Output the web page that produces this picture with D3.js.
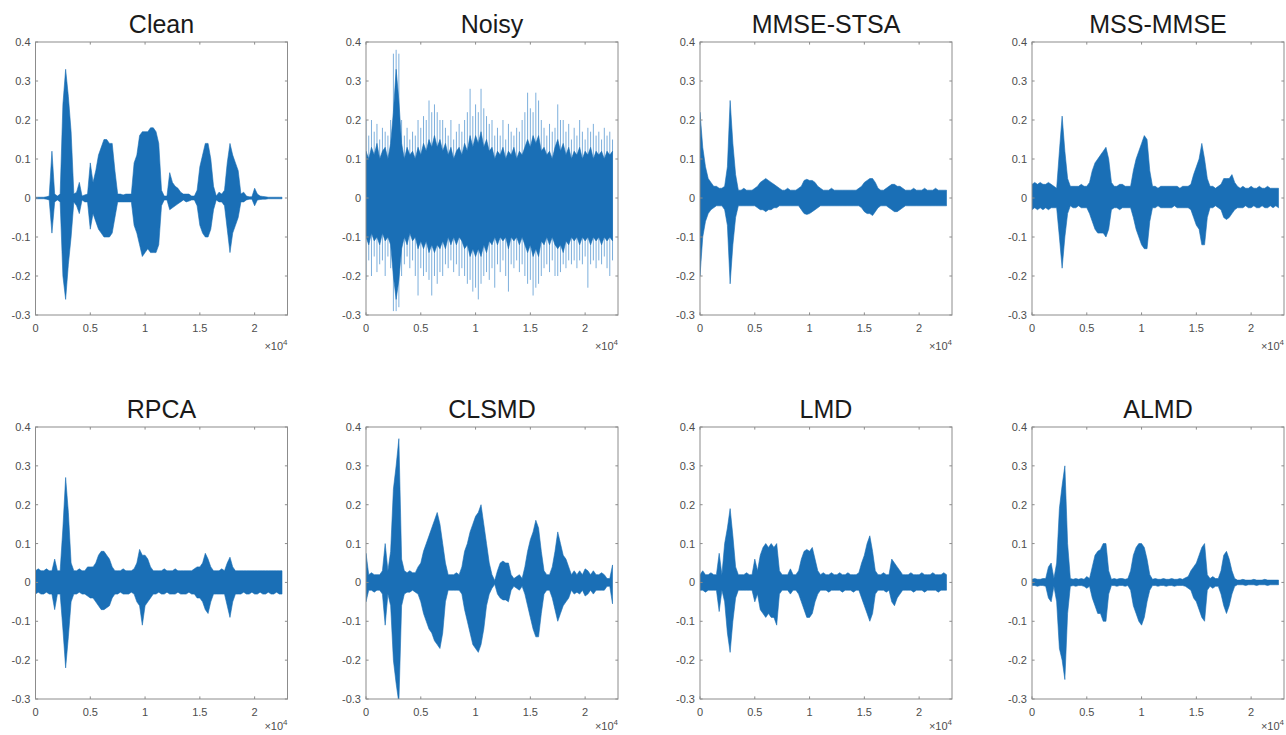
<!DOCTYPE html>
<html lang="en">
<head>
  <meta charset="UTF-8">
  <title>Speech denoising waveforms</title>
  <script src="https://d3js.org/d3.v7.min.js"></script>
  <style>
    html, body { margin: 0; background: #fff; }
    svg { display: block; font-family: "Liberation Sans", Arial, sans-serif; }
    .tick-label { font-size: 11px; fill: #4d4d4d; }
    .title { font-size: 25px; fill: #1a1a1a; }
  </style>
</head>
<body>
  <svg id="chart" width="1286" height="735"></svg>

  <script>
    // envelope of each waveform, read every 250 samples (0 .. 22500)
    const sampleStep = 250;

    const titles = ["Clean", "Noisy", "MMSE-STSA", "MSS-MMSE", "RPCA", "CLSMD", "LMD", "ALMD"];
    const yTicks = [-0.3, -0.2, -0.1, 0, 0.1, 0.2, 0.3, 0.4];
    const yTickLabels = ["-0.3", "-0.2", "-0.1", "0", "0.1", "0.2", "0.3", "0.4"];
    const xTicks = [0, 5000, 10000, 15000, 20000];
    const xTickLabels = ["0", "0.5", "1", "1.5", "2"];

    const cleanHi = [
      0.002, 0.002, 0.002, 0.002, 0.003, 0.005, 0.12, 0.01, 0.005, 0.01,
      0.24, 0.33, 0.26, 0.17, 0.01, 0.015, 0.04, 0.005, 0.008, 0.01,
      0.09, 0.04, 0.07, 0.11, 0.13, 0.15, 0.15, 0.14, 0.14, 0.07,
      0.01, 0.01, 0.008, 0.01, 0.01, 0.01, 0.09, 0.11, 0.16, 0.17,
      0.17, 0.17, 0.18, 0.18, 0.17, 0.14, 0.02, 0.005, 0.005, 0.065,
      0.04, 0.03, 0.025, 0.015, 0.01, 0.01, 0.01, 0.005, 0.005, 0.02,
      0.08, 0.11, 0.14, 0.14, 0.1, 0.03, 0.005, 0.015, 0.01, 0.02,
      0.09, 0.14, 0.11, 0.09, 0.07, 0.01, 0.015, 0.005, 0.003, 0.003,
      0.025, 0.01, 0.005, 0.004, 0.003, 0.002, 0.002, 0.002, 0.002, 0.002,
      0.002];
    const cleanLo = [
      -0.002, -0.002, -0.002, -0.002, -0.003, -0.005, -0.09, -0.01, -0.005, -0.01,
      -0.2, -0.26, -0.17, -0.1, -0.01, -0.02, -0.04, -0.005, -0.01, -0.01,
      -0.08, -0.04, -0.06, -0.08, -0.09, -0.1, -0.1, -0.1, -0.09, -0.05,
      -0.01, -0.01, -0.01, -0.01, -0.01, -0.01, -0.07, -0.09, -0.12, -0.15,
      -0.14, -0.13, -0.14, -0.14, -0.14, -0.12, -0.02, -0.005, -0.005, -0.03,
      -0.025, -0.02, -0.015, -0.01, -0.005, -0.01, -0.008, -0.005, -0.005, -0.02,
      -0.07, -0.09, -0.1, -0.1, -0.08, -0.03, -0.005, -0.01, -0.01, -0.02,
      -0.08, -0.14, -0.09, -0.07, -0.05, -0.01, -0.01, -0.005, -0.003, -0.003,
      -0.02, -0.005, -0.004, -0.003, -0.003, -0.002, -0.002, -0.002, -0.002, -0.002,
      -0.002];

    const noisyHi = [
      0.12, 0.1, 0.13, 0.11, 0.14, 0.1, 0.12, 0.13, 0.1, 0.14,
      0.22, 0.33, 0.25, 0.14, 0.1, 0.13, 0.11, 0.12, 0.1, 0.13,
      0.11, 0.14, 0.12, 0.15, 0.13, 0.16, 0.13, 0.15, 0.12, 0.14,
      0.11, 0.13, 0.1, 0.12, 0.13, 0.11, 0.14, 0.12, 0.16, 0.13,
      0.16, 0.14, 0.17, 0.13, 0.15, 0.12, 0.13, 0.1, 0.12, 0.11,
      0.13, 0.1, 0.12, 0.11, 0.13, 0.1, 0.12, 0.11, 0.13, 0.15,
      0.13, 0.16, 0.14, 0.16, 0.12, 0.13, 0.11, 0.12, 0.1, 0.13,
      0.15, 0.12, 0.14, 0.11, 0.13, 0.1, 0.12, 0.11, 0.13, 0.1,
      0.12, 0.11, 0.13, 0.1, 0.12, 0.11, 0.12, 0.1, 0.12, 0.11,
      0.12];
    const noisyLo = [
      -0.1, -0.12, -0.09, -0.11, -0.1, -0.12, -0.09, -0.11, -0.1, -0.12,
      -0.2, -0.26, -0.21, -0.13, -0.1, -0.12, -0.09, -0.11, -0.1, -0.13,
      -0.11, -0.13, -0.11, -0.14, -0.12, -0.14, -0.12, -0.13, -0.11, -0.13,
      -0.1, -0.12, -0.1, -0.12, -0.1, -0.11, -0.13, -0.12, -0.15, -0.13,
      -0.15, -0.13, -0.15, -0.12, -0.14, -0.11, -0.12, -0.1, -0.12, -0.1,
      -0.11, -0.1, -0.13, -0.1, -0.11, -0.1, -0.12, -0.1, -0.12, -0.14,
      -0.12, -0.15, -0.13, -0.15, -0.11, -0.12, -0.1, -0.12, -0.1, -0.12,
      -0.13, -0.12, -0.14, -0.11, -0.12, -0.1, -0.11, -0.1, -0.12, -0.1,
      -0.11, -0.1, -0.12, -0.1, -0.11, -0.1, -0.12, -0.1, -0.11, -0.1,
      -0.11];
    // the sparse light spikes around the dense noise band
    const noisyPeakHi = [
      0.2, 0.16, 0.2, 0.17, 0.19, 0.15, 0.18, 0.17, 0.16, 0.2,
      0.37, 0.38, 0.37, 0.2, 0.16, 0.18, 0.15, 0.17, 0.16, 0.2,
      0.18, 0.21, 0.2, 0.25, 0.22, 0.24, 0.22, 0.2, 0.2, 0.18,
      0.16, 0.2, 0.15, 0.17, 0.19, 0.17, 0.2, 0.22, 0.28, 0.21,
      0.24, 0.22, 0.28, 0.23, 0.21, 0.19, 0.2, 0.16, 0.18, 0.16,
      0.2, 0.15, 0.19, 0.17, 0.16, 0.18, 0.17, 0.2, 0.22, 0.27,
      0.23, 0.22, 0.27, 0.25, 0.2, 0.18, 0.16, 0.19, 0.17, 0.18,
      0.24, 0.2, 0.2, 0.17, 0.19, 0.15, 0.18, 0.16, 0.2, 0.17,
      0.15, 0.18, 0.17, 0.19, 0.16, 0.17, 0.15, 0.18, 0.16, 0.17,
      0.15];
    const noisyPeakLo = [
      -0.21, -0.16, -0.2, -0.15, -0.19, -0.17, -0.16, -0.2, -0.15, -0.18,
      -0.29, -0.29, -0.28, -0.2, -0.17, -0.15, -0.18, -0.16, -0.2, -0.25,
      -0.18, -0.2, -0.19, -0.21, -0.25, -0.2, -0.22, -0.19, -0.2, -0.17,
      -0.18, -0.16, -0.19, -0.17, -0.2, -0.18, -0.2, -0.22, -0.21, -0.24,
      -0.23, -0.26, -0.22, -0.2, -0.19, -0.21, -0.18, -0.23, -0.17, -0.19,
      -0.16, -0.2, -0.24, -0.17, -0.18, -0.16, -0.19, -0.17, -0.2, -0.22,
      -0.21, -0.25, -0.23, -0.22, -0.2, -0.18, -0.17, -0.19, -0.16, -0.2,
      -0.2, -0.19, -0.17, -0.18, -0.16, -0.17, -0.16, -0.18, -0.16, -0.17,
      -0.15, -0.23, -0.17, -0.16, -0.18, -0.16, -0.17, -0.15, -0.18, -0.2,
      -0.16];

    const mmseStsaHi = [
      0.22, 0.13, 0.08, 0.05, 0.04, 0.03, 0.03, 0.025, 0.025, 0.03,
      0.08, 0.25, 0.14, 0.06, 0.02, 0.02, 0.025, 0.02, 0.02, 0.02,
      0.025, 0.03, 0.04, 0.045, 0.05, 0.045, 0.04, 0.035, 0.03, 0.025,
      0.02, 0.02, 0.025, 0.02, 0.02, 0.02, 0.025, 0.03, 0.045, 0.048,
      0.045, 0.045, 0.04, 0.03, 0.025, 0.02, 0.02, 0.02, 0.025, 0.02,
      0.02, 0.02, 0.02, 0.02, 0.02, 0.02, 0.02, 0.02, 0.025, 0.03,
      0.04, 0.045, 0.05, 0.05, 0.04, 0.025, 0.02, 0.02, 0.025, 0.03,
      0.035, 0.035, 0.03, 0.03, 0.025, 0.02, 0.02, 0.02, 0.025, 0.02,
      0.02, 0.02, 0.025, 0.02, 0.02, 0.02, 0.025, 0.02, 0.02, 0.02,
      0.02];
    const mmseStsaLo = [
      -0.2, -0.1, -0.06, -0.04, -0.03, -0.025, -0.02, -0.02, -0.02, -0.03,
      -0.07, -0.22, -0.12, -0.05, -0.02, -0.02, -0.02, -0.02, -0.02, -0.02,
      -0.02, -0.025, -0.03, -0.03, -0.035, -0.03, -0.03, -0.025, -0.025, -0.02,
      -0.02, -0.02, -0.02, -0.02, -0.02, -0.02, -0.02, -0.03, -0.04, -0.042,
      -0.04, -0.035, -0.03, -0.025, -0.02, -0.02, -0.02, -0.02, -0.02, -0.02,
      -0.02, -0.02, -0.02, -0.02, -0.02, -0.02, -0.02, -0.02, -0.02, -0.025,
      -0.035, -0.04, -0.04, -0.045, -0.035, -0.025, -0.02, -0.02, -0.02, -0.025,
      -0.03, -0.035, -0.035, -0.03, -0.025, -0.02, -0.02, -0.02, -0.02, -0.02,
      -0.02, -0.02, -0.02, -0.02, -0.02, -0.02, -0.02, -0.02, -0.02, -0.02,
      -0.02];

    const mssMmseHi = [
      0.035, 0.04, 0.035, 0.04, 0.035, 0.035, 0.04, 0.035, 0.03, 0.025,
      0.12, 0.21, 0.12, 0.05, 0.03, 0.03, 0.03, 0.03, 0.035, 0.03,
      0.03, 0.04, 0.07, 0.09, 0.1, 0.11, 0.12, 0.13, 0.1, 0.04,
      0.03, 0.03, 0.035, 0.035, 0.03, 0.03, 0.03, 0.07, 0.1, 0.12,
      0.14, 0.16, 0.15, 0.07, 0.03, 0.03, 0.025, 0.03, 0.03, 0.03,
      0.03, 0.03, 0.03, 0.03, 0.025, 0.03, 0.03, 0.03, 0.035, 0.06,
      0.08, 0.1, 0.14, 0.1, 0.05, 0.03, 0.03, 0.025, 0.03, 0.035,
      0.05, 0.05, 0.05, 0.06, 0.04, 0.03, 0.025, 0.03, 0.025, 0.025,
      0.03, 0.025, 0.025, 0.03, 0.025, 0.025, 0.03, 0.025, 0.025, 0.025,
      0.025];
    const mssMmseLo = [
      -0.03, -0.025, -0.03, -0.025, -0.03, -0.025, -0.03, -0.025, -0.025, -0.025,
      -0.1, -0.18, -0.1, -0.04, -0.02, -0.025, -0.025, -0.02, -0.025, -0.025,
      -0.025, -0.04, -0.06, -0.08, -0.09, -0.09, -0.09, -0.1, -0.08, -0.03,
      -0.025, -0.025, -0.03, -0.025, -0.025, -0.025, -0.025, -0.05, -0.08, -0.1,
      -0.12, -0.13, -0.13, -0.06, -0.025, -0.025, -0.02, -0.025, -0.025, -0.025,
      -0.025, -0.025, -0.02, -0.025, -0.025, -0.025, -0.025, -0.025, -0.03, -0.05,
      -0.07, -0.08, -0.12, -0.12, -0.05, -0.025, -0.025, -0.02, -0.025, -0.03,
      -0.05, -0.055, -0.05, -0.04, -0.03, -0.025, -0.025, -0.025, -0.02, -0.025,
      -0.025, -0.02, -0.025, -0.025, -0.02, -0.025, -0.025, -0.02, -0.025, -0.02,
      -0.025];

    const rpcaHi = [
      0.03, 0.035, 0.03, 0.03, 0.035, 0.03, 0.03, 0.06, 0.03, 0.03,
      0.14, 0.27, 0.18, 0.05, 0.03, 0.03, 0.035, 0.03, 0.03, 0.04,
      0.04, 0.04, 0.05, 0.07, 0.08, 0.08, 0.07, 0.06, 0.04, 0.03,
      0.03, 0.03, 0.035, 0.03, 0.03, 0.03, 0.035, 0.05, 0.085, 0.07,
      0.07, 0.06, 0.04, 0.03, 0.03, 0.03, 0.03, 0.035, 0.03, 0.03,
      0.03, 0.035, 0.03, 0.03, 0.03, 0.03, 0.03, 0.03, 0.035, 0.04,
      0.04, 0.05, 0.075, 0.06, 0.04, 0.03, 0.03, 0.03, 0.035, 0.03,
      0.05, 0.065, 0.04, 0.03, 0.03, 0.03, 0.03, 0.03, 0.03, 0.03,
      0.03, 0.03, 0.03, 0.03, 0.03, 0.03, 0.03, 0.03, 0.03, 0.03,
      0.03];
    const rpcaLo = [
      -0.03, -0.025, -0.03, -0.03, -0.025, -0.03, -0.03, -0.07, -0.03, -0.03,
      -0.12, -0.22, -0.14, -0.05, -0.03, -0.03, -0.025, -0.03, -0.03, -0.035,
      -0.04, -0.04, -0.05, -0.06, -0.07, -0.07, -0.065, -0.06, -0.04, -0.03,
      -0.03, -0.025, -0.03, -0.03, -0.03, -0.025, -0.03, -0.05, -0.06, -0.11,
      -0.06, -0.05, -0.04, -0.03, -0.03, -0.025, -0.03, -0.03, -0.025, -0.03,
      -0.03, -0.03, -0.025, -0.03, -0.03, -0.03, -0.025, -0.03, -0.03, -0.04,
      -0.04, -0.05, -0.07, -0.08, -0.05, -0.03, -0.03, -0.03, -0.03, -0.03,
      -0.06, -0.09, -0.05, -0.03, -0.03, -0.03, -0.025, -0.03, -0.03, -0.025,
      -0.03, -0.03, -0.025, -0.03, -0.03, -0.025, -0.03, -0.03, -0.025, -0.03,
      -0.03];

    const clsmdHi = [
      0.075, 0.02, 0.025, 0.02, 0.02, 0.02, 0.03, 0.1, 0.03, 0.08,
      0.24, 0.3, 0.37, 0.06, 0.03, 0.025, 0.03, 0.025, 0.025, 0.04,
      0.05, 0.08, 0.1, 0.12, 0.14, 0.16, 0.18, 0.15, 0.1, 0.05,
      0.02, 0.02, 0.02, 0.025, 0.02, 0.04, 0.08, 0.1, 0.13, 0.15,
      0.17, 0.18, 0.2, 0.15, 0.1, 0.05, 0.02, 0.005, 0.03, 0.05,
      0.055, 0.05, 0.05, 0.02, 0.01, 0.015, 0.02, 0.01, 0.04, 0.08,
      0.11, 0.13, 0.16, 0.14, 0.08, 0.03, 0.02, 0.02, 0.04, 0.08,
      0.13, 0.1, 0.07, 0.06, 0.04, 0.02, 0.03, 0.02, 0.03, 0.02,
      0.035, 0.03, 0.02, 0.03, 0.02, 0.02, 0.025, 0.02, 0.01, 0.01,
      0.045];
    const clsmdLo = [
      -0.05, -0.02, -0.02, -0.025, -0.02, -0.02, -0.03, -0.11, -0.03, -0.06,
      -0.2, -0.26, -0.31, -0.06, -0.03, -0.025, -0.025, -0.02, -0.025, -0.03,
      -0.05, -0.08, -0.1, -0.12, -0.13, -0.15, -0.16, -0.17, -0.13, -0.05,
      -0.02, -0.02, -0.02, -0.02, -0.02, -0.03, -0.07, -0.1, -0.13, -0.16,
      -0.17, -0.18, -0.16, -0.12, -0.06, -0.03, -0.015, -0.005, -0.03, -0.04,
      -0.045, -0.045, -0.05, -0.02, -0.01, -0.015, -0.02, -0.01, -0.03, -0.06,
      -0.09, -0.12, -0.14, -0.14, -0.08, -0.03, -0.02, -0.02, -0.04, -0.07,
      -0.1, -0.08, -0.06, -0.05, -0.04, -0.02, -0.03, -0.025, -0.03, -0.02,
      -0.035, -0.03, -0.02, -0.03, -0.02, -0.02, -0.02, -0.02, -0.01, -0.01,
      -0.055];

    const lmdHi = [
      0.02, 0.03, 0.02, 0.02, 0.025, 0.02, 0.02, 0.075, 0.02, 0.1,
      0.14, 0.19, 0.12, 0.04, 0.02, 0.02, 0.02, 0.025, 0.02, 0.02,
      0.06, 0.03, 0.07, 0.09, 0.1, 0.09, 0.1, 0.09, 0.1, 0.03,
      0.02, 0.02, 0.02, 0.035, 0.02, 0.02, 0.03, 0.06, 0.08, 0.085,
      0.08, 0.09, 0.06, 0.03, 0.02, 0.025, 0.02, 0.02, 0.025, 0.02,
      0.02, 0.025, 0.02, 0.02, 0.025, 0.02, 0.02, 0.02, 0.025, 0.05,
      0.07, 0.1, 0.12, 0.08, 0.03, 0.02, 0.02, 0.025, 0.02, 0.02,
      0.06, 0.05, 0.04, 0.03, 0.02, 0.02, 0.02, 0.025, 0.02, 0.02,
      0.02, 0.025, 0.02, 0.02, 0.02, 0.025, 0.02, 0.02, 0.02, 0.025,
      0.02];
    const lmdLo = [
      -0.02, -0.02, -0.025, -0.02, -0.02, -0.02, -0.02, -0.075, -0.02, -0.05,
      -0.13, -0.18, -0.1, -0.04, -0.02, -0.02, -0.02, -0.02, -0.02, -0.02,
      -0.05, -0.03, -0.07, -0.08, -0.09, -0.08, -0.09, -0.09, -0.11, -0.03,
      -0.02, -0.02, -0.02, -0.03, -0.02, -0.02, -0.03, -0.05, -0.07, -0.09,
      -0.09, -0.08, -0.05, -0.03, -0.02, -0.02, -0.02, -0.025, -0.02, -0.02,
      -0.02, -0.02, -0.025, -0.02, -0.02, -0.02, -0.025, -0.02, -0.02, -0.04,
      -0.06, -0.08, -0.1, -0.08, -0.03, -0.02, -0.02, -0.02, -0.025, -0.02,
      -0.05, -0.06, -0.04, -0.03, -0.02, -0.02, -0.02, -0.02, -0.025, -0.02,
      -0.02, -0.02, -0.025, -0.02, -0.02, -0.02, -0.02, -0.025, -0.02, -0.02,
      -0.02];

    const almdHi = [
      0.008, 0.01, 0.008, 0.008, 0.01, 0.01, 0.04, 0.05, 0.01, 0.05,
      0.19, 0.25, 0.3, 0.1, 0.01, 0.008, 0.01, 0.008, 0.01, 0.008,
      0.015, 0.01, 0.04, 0.07, 0.08, 0.085, 0.1, 0.1, 0.03, 0.008,
      0.01, 0.008, 0.01, 0.01, 0.008, 0.01, 0.03, 0.07, 0.09, 0.1,
      0.1, 0.09, 0.06, 0.02, 0.008, 0.01, 0.008, 0.008, 0.01, 0.008,
      0.008, 0.01, 0.008, 0.008, 0.01, 0.008, 0.012, 0.015, 0.03, 0.04,
      0.05, 0.07, 0.09, 0.1, 0.02, 0.01, 0.015, 0.01, 0.01, 0.03,
      0.07, 0.08, 0.06, 0.03, 0.01, 0.006, 0.006, 0.008, 0.006, 0.006,
      0.006, 0.008, 0.006, 0.006, 0.006, 0.008, 0.006, 0.006, 0.006, 0.006,
      0.006];
    const almdLo = [
      -0.008, -0.008, -0.01, -0.008, -0.008, -0.01, -0.04, -0.05, -0.01, -0.05,
      -0.17, -0.2, -0.25, -0.08, -0.01, -0.008, -0.01, -0.008, -0.008, -0.01,
      -0.015, -0.01, -0.04, -0.06, -0.08, -0.08, -0.1, -0.1, -0.03, -0.008,
      -0.008, -0.01, -0.008, -0.008, -0.01, -0.008, -0.02, -0.06, -0.08, -0.1,
      -0.11, -0.09, -0.05, -0.02, -0.008, -0.008, -0.01, -0.008, -0.008, -0.01,
      -0.008, -0.008, -0.01, -0.008, -0.008, -0.008, -0.01, -0.015, -0.02, -0.04,
      -0.05, -0.07, -0.09, -0.1, -0.02, -0.01, -0.015, -0.01, -0.01, -0.03,
      -0.06, -0.08, -0.06, -0.03, -0.01, -0.006, -0.006, -0.006, -0.008, -0.006,
      -0.006, -0.006, -0.008, -0.006, -0.006, -0.006, -0.008, -0.006, -0.006, -0.006,
      -0.006];

    const panels = [
      { hi: cleanHi, lo: cleanLo },
      { hi: noisyHi, lo: noisyLo, peakHi: noisyPeakHi, peakLo: noisyPeakLo },
      { hi: mmseStsaHi, lo: mmseStsaLo },
      { hi: mssMmseHi, lo: mssMmseLo },
      { hi: rpcaHi, lo: rpcaLo },
      { hi: clsmdHi, lo: clsmdLo },
      { hi: lmdHi, lo: lmdLo },
      { hi: almdHi, lo: almdLo },
    ];

    // layout (matches the original figure grid)
    const colLeft = [35.5, 366, 700, 1032];
    const rowTop = [42, 427];
    const rowHeight = [273, 272];
    const expoOffset = [35, 31];
    const plotW = 252;
    const tickLen = 2.6;
    const waveColor = "#1a6fb6";
    const spikeColor = "#6ea6d8";
    const axisColor = "#8c8c8c";

    const svg = d3.select("#chart");
    svg.append("rect").attr("width", 1286).attr("height", 735).attr("fill", "#fff");

    panels.forEach((p, i) => {
      const row = Math.floor(i / 4);
      const left = colLeft[i % 4];
      const top = rowTop[row];
      const plotH = rowHeight[row];

      const x = d3.scaleLinear().domain([0, 23000]).range([0, plotW]);
      const y = d3.scaleLinear().domain([-0.3, 0.4]).range([plotH, 0]);

      const g = svg.append("g").attr("transform", `translate(${left},${top})`);

      g.append("clipPath").attr("id", `clip${i}`)
        .append("rect").attr("width", plotW).attr("height", plotH);

      const plot = g.append("g").attr("clip-path", `url(#clip${i})`);

      // light sparse spikes (noisy signal only)
      if (p.peakHi) {
        plot.selectAll("line.spike")
          .data(p.peakHi.map((h, k) => ({ s: k * sampleStep, hi: h, lo: p.peakLo[k] })))
          .enter().append("line")
          .attr("class", "spike")
          .attr("x1", d => x(d.s)).attr("x2", d => x(d.s))
          .attr("y1", d => y(d.hi)).attr("y2", d => y(d.lo))
          .attr("stroke", spikeColor)
          .attr("stroke-width", 0.9);
      }

      const env = p.hi.map((h, k) => ({ s: k * sampleStep, hi: h, lo: p.lo[k] }));
      const area = d3.area()
        .x(d => x(d.s))
        .y0(d => y(d.lo))
        .y1(d => y(d.hi));

      plot.append("path")
        .datum(env)
        .attr("d", area)
        .attr("fill", waveColor)
        .attr("stroke", waveColor)
        .attr("stroke-width", 0.6)
        .attr("stroke-linejoin", "round");

      // box
      g.append("rect")
        .attr("x", 0).attr("y", 0)
        .attr("width", plotW).attr("height", plotH)
        .attr("fill", "none")
        .attr("stroke", axisColor)
        .attr("stroke-width", 1);

      // ticks pointing inwards on all four sides
      yTicks.forEach((t, k) => {
        const yy = y(t);
        g.append("line").attr("x1", 0).attr("x2", tickLen).attr("y1", yy).attr("y2", yy)
          .attr("stroke", axisColor);
        g.append("line").attr("x1", plotW - tickLen).attr("x2", plotW).attr("y1", yy).attr("y2", yy)
          .attr("stroke", axisColor);
        g.append("text")
          .attr("class", "tick-label")
          .attr("x", -5).attr("y", yy).attr("dy", "0.36em")
          .attr("text-anchor", "end")
          .text(yTickLabels[k]);
      });

      xTicks.forEach((t, k) => {
        const xx = x(t);
        g.append("line").attr("x1", xx).attr("x2", xx).attr("y1", plotH).attr("y2", plotH - tickLen)
          .attr("stroke", axisColor);
        g.append("line").attr("x1", xx).attr("x2", xx).attr("y1", 0).attr("y2", tickLen)
          .attr("stroke", axisColor);
        g.append("text")
          .attr("class", "tick-label")
          .attr("x", xx).attr("y", plotH + 17)
          .attr("text-anchor", "middle")
          .text(xTickLabels[k]);
      });

      // exponent label
      const expo = g.append("text")
        .attr("class", "tick-label")
        .attr("x", plotW).attr("y", plotH + expoOffset[row])
        .attr("text-anchor", "end");
      expo.append("tspan").text("\u00d710");
      expo.append("tspan").attr("dy", -5).style("font-size", "8px").text("4");

      g.append("text")
        .attr("class", "title")
        .attr("x", plotW / 2)
        .attr("y", -9)
        .attr("text-anchor", "middle")
        .text(titles[i]);
    });
  </script>
</body>
</html>
